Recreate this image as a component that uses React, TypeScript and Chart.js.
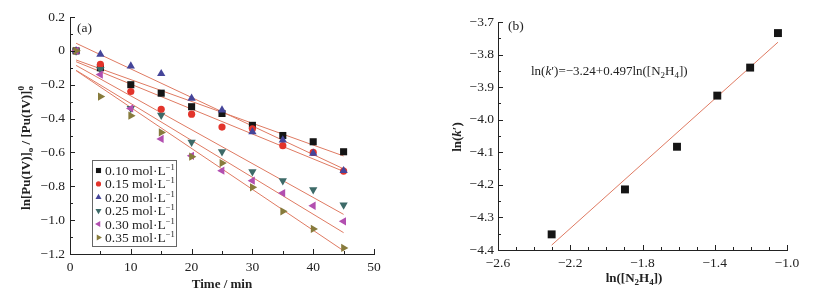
import React, { useEffect, useRef } from "react";
import { Chart, registerables } from "chart.js";
Chart.register(...registerables);

// ---------- data (panel a) ----------
const times = [1, 5, 10, 15, 20, 25, 30, 35, 40, 45];
const seriesLabels = ["0.10", "0.15", "0.20", "0.25", "0.30", "0.35"];
const s010 = [0, -0.10, -0.20, -0.25, -0.33, -0.37, -0.44, -0.50, -0.537, -0.596];
const s015 = [0, -0.08, -0.24, -0.345, -0.374, -0.45, -0.46, -0.56, -0.60, -0.71];
const s020 = [0, -0.02, -0.09, -0.135, -0.28, -0.35, -0.478, -0.527, -0.605, -0.708];
const s025 = [0, -0.11, -0.34, -0.38, -0.54, -0.596, -0.714, -0.767, -0.82, -0.91];
const s030 = [0, -0.14, -0.34, -0.52, -0.62, -0.708, -0.767, -0.84, -0.915, -1.007];
const s035 = [0, -0.27, -0.383, -0.482, -0.625, -0.663, -0.806, -0.948, -1.052, -1.164];
const fitTimes = [1, 45];
const fit010 = [-0.054, -0.621];
const fit015 = [-0.064, -0.712];
const fit020 = [0.045, -0.697];
const fit025 = [-0.086, -0.966];
const fit030 = [-0.115, -1.074];
const fit035 = [-0.117, -1.181];
const xTicksA = [0, 10, 20, 30, 40, 50];
const yTicksA = [0.2, 0, -0.2, -0.4, -0.6, -0.8, -1.0, -1.2];

// ---------- data (panel b) ----------
const lnN2H4 = [-2.303, -1.897, -1.609, -1.386, -1.204, -1.05];
const lnK = [-4.352, -4.214, -4.083, -3.926, -3.84, -3.734];
const fitLnN2H4 = [-2.303, -1.05];
const fitLnK = [-4.385, -3.762];
const xTicksB = [-2.6, -2.2, -1.8, -1.4, -1.0];
const yTicksB = [-3.7, -3.8, -3.9, -4.0, -4.1, -4.2, -4.3, -4.4];

const seriesValues = [s010, s015, s020, s025, s030, s035];
const fitValues = [fit010, fit015, fit020, fit025, fit030, fit035];

// ---------- styles ----------
const FAMILY = '"Liberation Serif", "Times New Roman", serif';
const INK = "#222";
const FITCOLOR = "#df7a62";
const markers = [
  { style: "rect", rot: 0, r: 5, color: "#151515" },
  { style: "circle", rot: 0, r: 3.6, color: "#e3342b" },
  { style: "triangle", rot: 0, r: 4.8, color: "#45459a" },
  { style: "triangle", rot: 180, r: 4.8, color: "#3d6a68" },
  { style: "triangle", rot: 270, r: 4.8, color: "#b24fb0" },
  { style: "triangle", rot: 90, r: 4.8, color: "#877b3c" },
];

type Seg = { t: string; size: number; bold?: boolean; italic?: boolean; dy?: number; stack?: boolean };
const fontOf = (s: Seg) => `${s.italic ? "italic " : ""}${s.bold ? "bold " : ""}${s.size}px ${FAMILY}`;

function layoutSegs(ctx: CanvasRenderingContext2D, segs: Seg[]) {
  const out: { s: Seg; x: number }[] = [];
  let w = 0, prevStart = 0, prevW = 0;
  for (const s of segs) {
    ctx.font = fontOf(s);
    const sw = ctx.measureText(s.t).width;
    if (s.stack) {
      out.push({ s, x: prevStart });
      if (sw > prevW) { w += sw - prevW; prevW = sw; }
    } else {
      out.push({ s, x: w });
      prevStart = w; prevW = sw; w += sw;
    }
  }
  return { items: out, width: w };
}

function drawSegs(ctx: CanvasRenderingContext2D, segs: Seg[], x: number, baseline: number, align: "left" | "center" = "left", rotate = false) {
  ctx.save();
  const { items, width } = layoutSegs(ctx, segs);
  ctx.translate(x, baseline);
  if (rotate) ctx.rotate(-Math.PI / 2);
  const x0 = align === "center" ? -width / 2 : 0;
  ctx.fillStyle = INK;
  ctx.textAlign = "left";
  ctx.textBaseline = "alphabetic";
  for (const it of items) {
    ctx.font = fontOf(it.s);
    ctx.fillText(it.s.t, x0 + it.x, it.s.dy || 0);
  }
  ctx.restore();
}

function drawMarker(ctx: CanvasRenderingContext2D, m: { style: string; rot: number; color: string }, x: number, y: number, r: number) {
  ctx.save();
  ctx.fillStyle = m.color;
  ctx.beginPath();
  if (m.style === "rect") {
    const s = r * Math.SQRT1_2;
    ctx.rect(x - s, y - s, 2 * s, 2 * s);
  } else if (m.style === "circle") {
    ctx.arc(x, y, r, 0, Math.PI * 2);
  } else {
    let a = (m.rot * Math.PI) / 180;
    ctx.moveTo(x + Math.sin(a) * r, y - Math.cos(a) * r);
    a += (2 * Math.PI) / 3;
    ctx.lineTo(x + Math.sin(a) * r, y - Math.cos(a) * r);
    a += (2 * Math.PI) / 3;
    ctx.lineTo(x + Math.sin(a) * r, y - Math.cos(a) * r);
    ctx.closePath();
  }
  ctx.fill();
  ctx.restore();
}

const fmt1 = (v: number) => (Math.abs(v) < 1e-9 ? "0" : (v < 0 ? "\u2212" : "") + Math.abs(v).toFixed(1));

function range(a: number, b: number, step: number) {
  const out: number[] = [];
  for (let v = a; v <= b + step / 1000; v += step) out.push(Math.round(v * 1000) / 1000);
  return out;
}

function tickPlugin(id: string, xMajor: number[], xMinor: number[], yMajor: number[], yMinor: number[], extra: (ctx: CanvasRenderingContext2D, chart: any) => void) {
  return {
    id,
    afterDraw(chart: any) {
      const ctx: CanvasRenderingContext2D = chart.ctx;
      const xs = chart.scales.x, ys = chart.scales.y;
      const { left, bottom } = chart.chartArea;
      ctx.save();
      ctx.strokeStyle = INK;
      ctx.lineWidth = 1;
      ctx.beginPath();
      const xt = (v: number, len: number) => {
        const px = Math.round(xs.getPixelForValue(v)) + 0.5;
        ctx.moveTo(px, bottom);
        ctx.lineTo(px, bottom - len);
      };
      const yt = (v: number, len: number) => {
        const py = Math.round(ys.getPixelForValue(v)) + 0.5;
        ctx.moveTo(left, py);
        ctx.lineTo(left + len, py);
      };
      xMajor.forEach((v) => xt(v, 5));
      xMinor.forEach((v) => xt(v, 3));
      yMajor.forEach((v) => yt(v, 5));
      yMinor.forEach((v) => yt(v, 3));
      ctx.stroke();
      ctx.restore();
      extra(ctx, chart);
    },
  };
}

function axisCommon(min: number, max: number, tickVals: number[], fmt: (v: number) => string, pad: number, fit: (s: any) => void) {
  return {
    type: "linear" as const,
    min,
    max,
    afterBuildTicks: (s: any) => {
      s.ticks = tickVals.map((v) => ({ value: v }));
    },
    afterFit: fit,
    grid: { display: false, drawTicks: false },
    border: { display: true, color: INK, width: 1 },
    ticks: {
      padding: pad,
      color: INK,
      font: { family: FAMILY, size: 13.5 },
      autoSkip: false,
      maxRotation: 0,
      callback: (v: any) => fmt(Number(v)),
    },
  };
}

function leftConfig(): any {
  const datasets: any[] = [];
  fitValues.forEach((f, i) => {
    datasets.push({
      label: "fit " + seriesLabels[i],
      data: fitTimes.map((t, j) => ({ x: t, y: f[j] })),
      showLine: true,
      pointRadius: 0,
      borderColor: FITCOLOR,
      borderWidth: 1,
      order: 20,
    });
  });
  seriesValues.forEach((s, i) => {
    const m = markers[i];
    datasets.push({
      label: seriesLabels[i] + " mol·L−1",
      data: times.map((t, j) => ({ x: t, y: s[j] })),
      pointStyle: m.style,
      pointRotation: m.rot,
      pointRadius: m.r,
      backgroundColor: m.color,
      borderColor: m.color,
      borderWidth: 0,
      order: 6 - i,
    });
  });
  const extra = (ctx: CanvasRenderingContext2D) => {
    // panel label
    drawSegs(ctx, [{ t: "(a)", size: 13.5 }], 77, 32);
    // axis titles
    drawSegs(ctx, [{ t: "Time / min", size: 13, bold: true }], 222, 288, "center");
    drawSegs(
      ctx,
      [
        { t: "ln[Pu(IV)]", size: 13, bold: true },
        { t: "o", size: 9, bold: true, dy: 3 },
        { t: " / [Pu(IV)]", size: 13, bold: true },
        { t: "o", size: 9, bold: true, dy: 3 },
        { t: "0", size: 9, bold: true, dy: -6, stack: true },
      ],
      30,
      148,
      "center",
      true
    );
    // legend
    ctx.save();
    ctx.fillStyle = "#fff";
    ctx.fillRect(92.5, 160.5, 84, 86);
    ctx.strokeStyle = "#666";
    ctx.lineWidth = 1;
    ctx.strokeRect(92.5, 160.5, 84, 86);
    ctx.restore();
    seriesLabels.forEach((lab, i) => {
      const cy = 170.5 + i * 13.4;
      const m = markers[i];
      drawMarker(ctx, m, 98.5, cy, m.r * 0.72);
      drawSegs(
        ctx,
        [
          { t: lab + " mol·L", size: 13.5 },
          { t: "\u22121", size: 8.5, dy: -5 },
        ],
        105,
        cy + 4.5
      );
    });
  };
  return {
    type: "scatter",
    data: { datasets },
    options: {
      responsive: false,
      animation: false,
      events: [],
      layout: { padding: { left: 0, right: 36, top: 17, bottom: 0 } },
      plugins: { legend: { display: false }, tooltip: { enabled: false } },
      scales: {
        x: axisCommon(0, 50, xTicksA, (v) => String(v), 5, (s: any) => { s.height = 47; }),
        y: axisCommon(-1.2, 0.2, yTicksA, fmt1, 5, (s: any) => { s.width = 70; }),
      },
    },
    plugins: [tickPlugin("ticksA", xTicksA, range(5, 45, 10), yTicksA, range(-1.1, 0.1, 0.2), extra)],
  };
}

function rightConfig(): any {
  const datasets: any[] = [
    {
      label: "fit",
      data: fitLnN2H4.map((x, j) => ({ x, y: fitLnK[j] })),
      showLine: true,
      pointRadius: 0,
      borderColor: FITCOLOR,
      borderWidth: 1,
      order: 5,
    },
    {
      label: "ln(k')",
      data: lnN2H4.map((x, j) => ({ x, y: lnK[j] })),
      pointStyle: "rect",
      pointRadius: 5.6,
      backgroundColor: "#151515",
      borderColor: "#151515",
      borderWidth: 0,
      order: 1,
    },
  ];
  const extra = (ctx: CanvasRenderingContext2D) => {
    drawSegs(ctx, [{ t: "(b)", size: 13.5 }], 98, 30);
    drawSegs(
      ctx,
      [
        { t: "ln(", size: 13 },
        { t: "k", size: 13, italic: true },
        { t: "\u2032)=\u22123.24+0.497ln([N", size: 13 },
        { t: "2", size: 9, dy: 3 },
        { t: "H", size: 13 },
        { t: "4", size: 9, dy: 3 },
        { t: "])", size: 13 },
      ],
      121,
      75
    );
    drawSegs(
      ctx,
      [
        { t: "ln([N", size: 13, bold: true },
        { t: "2", size: 9, bold: true, dy: 3 },
        { t: "H", size: 13, bold: true },
        { t: "4", size: 9, bold: true, dy: 3 },
        { t: "])", size: 13, bold: true },
      ],
      224,
      282,
      "center"
    );
    drawSegs(
      ctx,
      [
        { t: "ln(", size: 13, bold: true },
        { t: "k", size: 13, bold: true, italic: true },
        { t: "\u2032)", size: 13, bold: true },
      ],
      51,
      137,
      "center",
      true
    );
  };
  return {
    type: "scatter",
    data: { datasets },
    options: {
      responsive: false,
      animation: false,
      events: [],
      layout: { padding: { left: 0, right: 32, top: 22, bottom: 0 } },
      plugins: { legend: { display: false }, tooltip: { enabled: false } },
      scales: {
        x: axisCommon(-2.6, -1.0, xTicksB, fmt1, 5, (s: any) => { s.height = 51; }),
        y: axisCommon(-4.4, -3.7, yTicksB, fmt1, 4, (s: any) => { s.width = 88; }),
      },
    },
    plugins: [tickPlugin("ticksB", xTicksB, range(-2.5, -1.1, 0.1), yTicksB, range(-4.35, -3.75, 0.1), extra)],
  };
}

export default function App() {
  const leftRef = useRef<HTMLCanvasElement>(null);
  const rightRef = useRef<HTMLCanvasElement>(null);
  useEffect(() => {
    const c1 = new Chart(leftRef.current as HTMLCanvasElement, leftConfig());
    const c2 = new Chart(rightRef.current as HTMLCanvasElement, rightConfig());
    return () => {
      c1.destroy();
      c2.destroy();
    };
  }, []);
  return (
    <div style={{ position: "absolute", left: 0, top: 0, width: 819, height: 301, background: "#fff" }}>
      <canvas ref={leftRef} width={410} height={301} style={{ position: "absolute", left: 0, top: 0, width: 410, height: 301 }} />
      <canvas ref={rightRef} width={409} height={301} style={{ position: "absolute", left: 410, top: 0, width: 409, height: 301 }} />
    </div>
  );
}
